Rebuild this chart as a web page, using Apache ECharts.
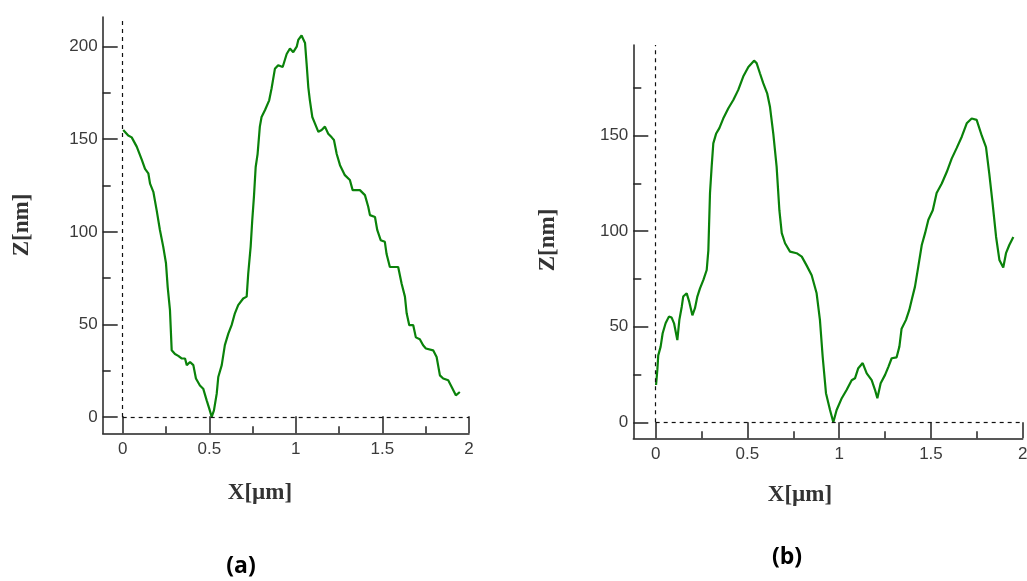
<!DOCTYPE html>
<html>
<head>
<meta charset="utf-8">
<script src="https://cdn.jsdelivr.net/npm/echarts@6/dist/echarts.min.js"></script>
<style>
html,body{margin:0;padding:0;background:#fff;}
#c{width:1027px;height:581px;}
</style>
</head>
<body>
<div id="c"></div>
<script>
// ---- data: profile (a) ----
const xA = [0.003,0.032,0.052,0.081,0.11,0.129,0.148,0.158,0.177,0.196,0.215,0.234,0.25,0.26,0.273,0.283,0.302,0.321,0.34,0.36,0.37,0.389,0.408,0.423,0.446,0.465,0.485,0.5,0.514,0.527,0.543,0.552,0.572,0.59,0.61,0.629,0.648,0.667,0.696,0.716,0.725,0.739,0.748,0.758,0.768,0.779,0.792,0.802,0.822,0.846,0.86,0.879,0.898,0.924,0.947,0.966,0.985,1.005,1.014,1.033,1.053,1.062,1.072,1.081,1.095,1.11,1.13,1.149,1.168,1.187,1.207,1.22,1.236,1.255,1.283,1.312,1.328,1.37,1.399,1.418,1.428,1.457,1.47,1.49,1.514,1.524,1.543,1.591,1.611,1.63,1.64,1.655,1.678,1.693,1.716,1.735,1.751,1.793,1.813,1.832,1.851,1.88,1.9,1.924,1.947];
const zA = [155,152,151,146,139,134,131.6,126,121.6,111.7,101,92,83,70,57.7,36,34,33,31.6,31.6,28,29.7,28,20.8,17,15.3,9,4.5,0,3.6,12.6,21.6,28,38.8,45,49.6,56,60.4,64,65,77.5,92,106,119,135,142,156.8,162,165.8,171,177.5,188,190,189,196,199,197,200,203.6,206,202,191,178,171,162,158.6,154,155,156.8,153,151,149.6,142,136,130.6,128,122.5,122.5,119.8,113.5,109,108,101,95.5,94.6,88,81,81,72,65,56,49.6,49.6,43,42,38.7,37,36,32.4,22.5,20.8,19.8,16.2,11.7,13.5];
// ---- data: profile (b) ----
const xB = [0.002,0.009,0.014,0.027,0.038,0.054,0.072,0.087,0.1,0.118,0.129,0.142,0.15,0.169,0.183,0.2,0.214,0.227,0.241,0.26,0.278,0.287,0.296,0.305,0.314,0.329,0.347,0.368,0.396,0.423,0.45,0.477,0.505,0.536,0.55,0.568,0.586,0.608,0.623,0.641,0.659,0.674,0.687,0.705,0.732,0.768,0.796,0.823,0.85,0.877,0.895,0.91,0.928,0.95,0.968,0.986,1.014,1.041,1.068,1.086,1.104,1.128,1.15,1.177,1.195,1.208,1.226,1.25,1.268,1.286,1.313,1.328,1.34,1.364,1.382,1.395,1.413,1.431,1.45,1.468,1.486,1.51,1.531,1.559,1.586,1.613,1.64,1.668,1.695,1.722,1.749,1.777,1.8,1.818,1.836,1.855,1.873,1.894,1.909,1.927,1.949];
const zB = [19.5,27.4,35,39.6,46.6,51.8,55.3,54.8,51.8,43,53.6,60.5,65.8,67.5,63,56,59.7,65.8,70,74.5,79.7,90,120,133.8,146,151,154,159,164.4,168.7,174,181,186,189.3,188,182.7,177.5,172,165,151,133.8,111,99,93.7,89.3,88.5,86.7,82,77,67.5,53.6,34.3,15.2,6.4,0,6.4,12.6,17,22,23,28.3,31,25.6,22,17,12.6,20.4,24.8,29,33.5,34,39.6,49,53.6,58.8,64,71,81.5,92.8,99,106,111,120,125,131,138,143.5,149.5,156.5,159,158.3,150,144,130,114.6,97,85,81,88.5,92.8,97];

// ---- tick values ----
const xMajor = [0, 0.5, 1, 1.5, 2];
const xMinor = [0.25, 0.75, 1.25, 1.75];
const yMajorA = [0, 50, 100, 150, 200];
const yMinorA = [25, 75, 125, 175];
const yMajorB = [0, 50, 100, 150];
const yMinorB = [25, 75, 125, 175];

// ---- axis ranges ----
const rangeA = {xmin: -0.1155, xmax: 2, ymin: -8.8, ymax: 216};
const rangeB = {xmin: -0.122, xmax: 2, ymin: -8.4, ymax: 197.5};

// ---- text ----
const xTitle = 'X[\u00b5m]';
const yTitle = 'Z[nm]';
const panelLabels = ['(a)', '(b)'];

const pairs = (xs, zs) => xs.map((x, i) => [x, zs[i]]);

const labelFont = {fontFamily: 'Liberation Sans', fontSize: 17, color: '#3a3a3a'};

function xAxes(grid, r, majLen) {
  return [
    {type:'value', gridIndex:grid, min:r.xmin, max:r.xmax, position:'bottom',
     axisLine:{show:true, onZero:false, lineStyle:{color:'#222', width:1.5}},
     axisTick:{show:true, inside:true, length:majLen, customValues:xMajor, lineStyle:{color:'#222', width:1.5}},
     axisLabel:{show:true, customValues:xMajor, margin:8, ...labelFont},
     splitLine:{show:false}},
    {type:'value', gridIndex:grid, min:r.xmin, max:r.xmax, position:'bottom',
     axisLine:{show:false, onZero:false},
     axisTick:{show:true, inside:true, length:7, customValues:xMinor, lineStyle:{color:'#222', width:1.5}},
     axisLabel:{show:false}, splitLine:{show:false}}
  ];
}
function yAxes(grid, r, major, minor) {
  return [
    {type:'value', gridIndex:grid, min:r.ymin, max:r.ymax, position:'left',
     axisLine:{show:true, onZero:false, lineStyle:{color:'#222', width:1.5}},
     axisTick:{show:true, inside:true, length:15, customValues:major, lineStyle:{color:'#222', width:1.5}},
     axisLabel:{show:true, customValues:major, margin:5, ...labelFont},
     splitLine:{show:false}},
    {type:'value', gridIndex:grid, min:r.ymin, max:r.ymax, position:'left',
     axisLine:{show:false, onZero:false},
     axisTick:{show:true, inside:true, length:8, customValues:minor, lineStyle:{color:'#222', width:1.5}},
     axisLabel:{show:false}, splitLine:{show:false}}
  ];
}
function profile(xi, yi, data, r) {
  return {
    type:'line', xAxisIndex:xi, yAxisIndex:yi, data:data,
    showSymbol:false, symbol:'none', smooth:false, silent:true, animation:false,
    lineStyle:{color:'#0a820a', width:2.2},
    markLine:{
      silent:true, symbol:['none','none'], label:{show:false}, animation:false,
      lineStyle:{type:[4,4], color:'#111', width:1.2},
      emphasis:{disabled:true},
      data:[
        [{coord:[0, 0]}, {coord:[0, r.ymax]}],
        [{coord:[0, 0]}, {coord:[r.xmax, 0]}]
      ]
    }
  };
}

const titleFont = {fontFamily:'Liberation Serif', fontWeight:'bold', fontSize:23, fill:'#333'};
const panelFont = {fontFamily:'Open Sans', fontWeight:'bold', fontSize:23, fill:'#000'};

const chart = echarts.init(document.getElementById('c'), null, {renderer:'canvas'});
chart.setOption({
  animation:false,
  backgroundColor:'#fff',
  grid:[
    {left:102.7, top:17, width:366.3, height:416.3, containLabel:false, outerBoundsMode:'none'},
    {left:633.3, top:45, width:389.4, height:393.3, containLabel:false, outerBoundsMode:'none'}
  ],
  xAxis:[...xAxes(0, rangeA, 17), ...xAxes(1, rangeB, 16)],
  yAxis:[...yAxes(0, rangeA, yMajorA, yMinorA), ...yAxes(1, rangeB, yMajorB, yMinorB)],
  series:[
    profile(0, 0, pairs(xA, zA), rangeA),
    profile(2, 2, pairs(xB, zB), rangeB)
  ],
  graphic:[
    {type:'text', x:260, y:493, style:{text:xTitle, ...titleFont, align:'center', verticalAlign:'middle'}},
    {type:'text', x:22, y:225, rotation:Math.PI/2, style:{text:yTitle, ...titleFont, align:'center', verticalAlign:'middle'}},
    {type:'text', x:800, y:495, style:{text:xTitle, ...titleFont, align:'center', verticalAlign:'middle'}},
    {type:'text', x:548, y:240, rotation:Math.PI/2, style:{text:yTitle, ...titleFont, align:'center', verticalAlign:'middle'}},
    {type:'text', x:241, y:566, style:{text:panelLabels[0], ...panelFont, align:'center', verticalAlign:'middle'}},
    {type:'text', x:787, y:557, style:{text:panelLabels[1], ...panelFont, align:'center', verticalAlign:'middle'}}
  ]
});
</script>
</body>
</html>
